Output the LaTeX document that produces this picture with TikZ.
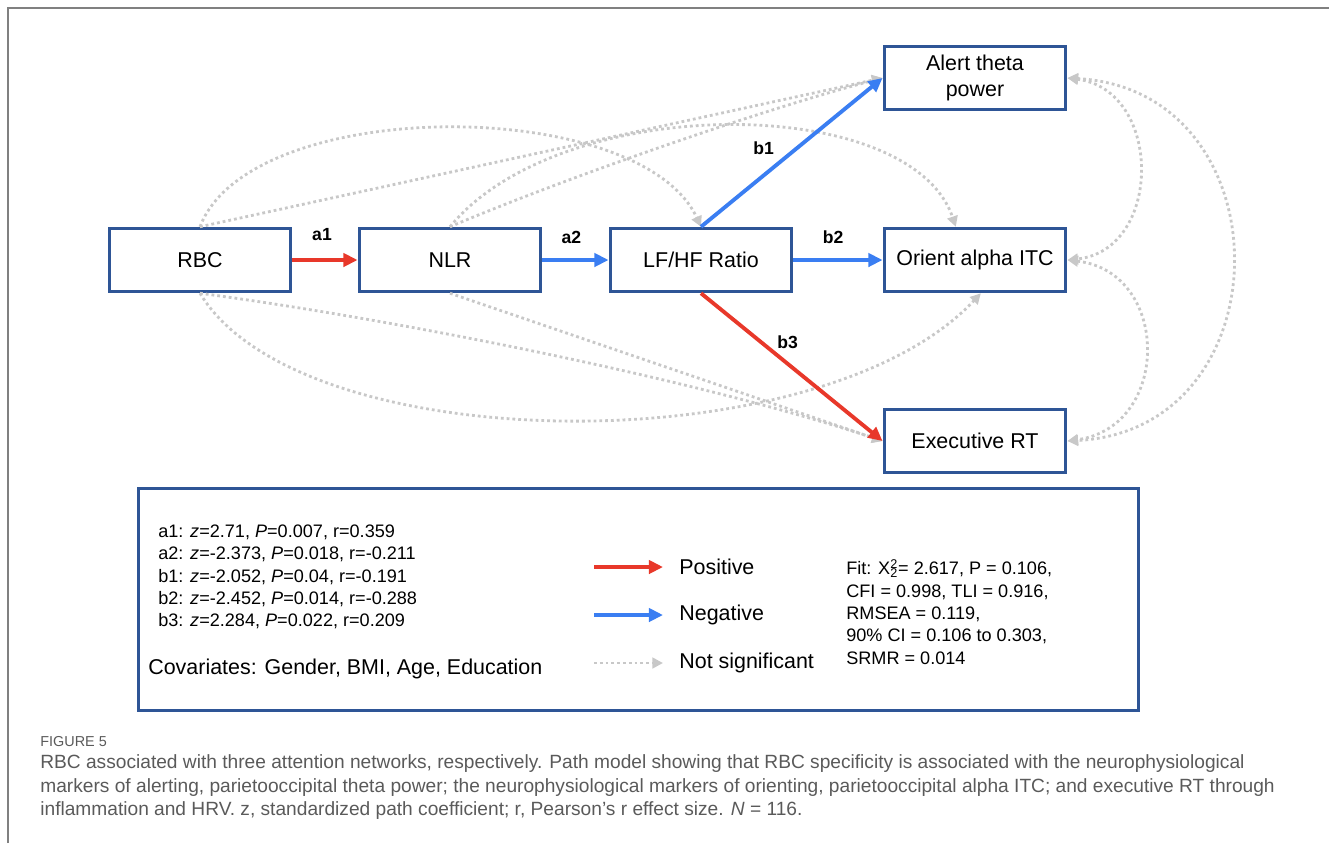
\documentclass[tikz,border=0pt]{standalone}
\usepackage{fontspec}
\setmainfont{Liberation Sans}
\usetikzlibrary{arrows.meta}

\definecolor{boxblue}{HTML}{2E5596}
\definecolor{posred}{HTML}{E8382A}
\definecolor{negblue}{HTML}{3A7EF2}
\definecolor{nsgray}{HTML}{C8C8C8}
\definecolor{capgray}{HTML}{5A5A5A}

\tikzset{
  var/.style={draw=boxblue, line width=1.7pt, minimum width=3.64cm, minimum height=1.27cm,
    inner sep=0pt, align=center, font=\fontsize{12.2}{14.7}\selectfont},
  sigpath/.style={line width=2.2pt, -{Triangle[length=8pt,width=7.5pt]}},
  posarrow/.style={sigpath, posred},
  negarrow/.style={sigpath, negblue},
  nspath/.style={draw=nsgray, line width=1.6pt, dash pattern=on 1.6pt off 1.7pt,
    -{Triangle[length=6pt,width=6pt]}},
  nscov/.style={nspath, {Triangle[length=6pt,width=6pt]}-{Triangle[length=6pt,width=6pt]}},
  plab/.style={text=black, inner sep=0pt, font=\fontsize{10}{12}\selectfont\bfseries},
  stat/.style={align=left, inner sep=0pt, font=\fontsize{10.3}{12.7}\selectfont},
  keytext/.style={anchor=west, inner sep=0pt, font=\fontsize{12.2}{14.7}\selectfont},
  captext/.style={anchor=west, inner sep=0pt, text=capgray, font=\fontsize{10.9}{13}\selectfont}
}

\begin{document}
\begin{tikzpicture}[x=0.02cm, y=-0.02cm]
  \useasboundingbox (0,0) rectangle (1329,843);
  % Cornice
  \draw[gray, line width=0.8pt] (8,843) -- (8,8) -- (1329,8);

  % Variabili
  \foreach \name/\px/\py/\txt in {rbc/200/260/RBC, nlr/450/260/NLR, lfhf/701/260/{LF/HF Ratio},
      alert/975/78/{Alert theta\\power}, orient/975/260/{Orient alpha ITC}, exec/975/441/{Executive RT}} {
    \node[var] (\name) at (\px,\py) {\txt};
  }

  % Percorsi non significativi
  \draw[nspath] (rbc.north) .. controls (250,95) and (640,95) .. (lfhf.north);
  \draw[nspath] (rbc.north) -- (alert.west);
  \draw[nspath] (nlr.north) .. controls (560,180) and (760,110) .. (alert.west);
  \draw[nspath] (nlr.north) .. controls (560,92) and (910,92) .. (orient.120);
  \draw[nspath] (rbc.south) .. controls (400,320) and (700,380) .. (exec.west);
  \draw[nspath] (rbc.south) .. controls (300,460) and (820,465) .. (orient.-80);
  \draw[nspath] (nlr.south) -- (exec.west);
  \draw[nscov] (alert.east) .. controls (1163,90) and (1163,250) .. (orient.east);
  \draw[nscov] (orient.east) .. controls (1171,272) and (1171,427) .. (exec.east);
  \draw[nscov] (alert.east) .. controls (1287,90) and (1287,430) .. (exec.east);

  % Percorsi significativi
  \foreach \a/\b/\lab/\col/\p/\dx/\dy in {rbc.east/nlr.west/a1/posred/0.5/-1.7/14.7,
      nlr.east/lfhf.west/a2/negblue/0.5/-2.3/13, lfhf.north/alert.west/b1/negblue/0.4/-5.7/10.8,
      lfhf.east/orient.west/b2/negblue/0.5/-2.8/13, lfhf.south/exec.west/b3/posred/0.45/2.8/10} {
    \draw[sigpath, \col] (\a) -- (\b) node[pos=\p, xshift=\dx pt, yshift=\dy pt, plab] {\lab};
  }

  % Legenda
  \node[draw=boxblue, line width=1.7pt, minimum width=20cm, minimum height=4.44cm] (key) at (638.5,599.5) {};
  \node[stat, anchor=west] (coef) at (158,577) {a1: \textit{z}=2.71, \textit{P}=0.007, r=0.359\\
    a2: \textit{z}=-2.373, \textit{P}=0.018, r=-0.211\\
    b1: \textit{z}=-2.052, \textit{P}=0.04, r=-0.191\\
    b2: \textit{z}=-2.452, \textit{P}=0.014, r=-0.288\\
    b3: \textit{z}=2.284, \textit{P}=0.022, r=0.209};
  \node[keytext] (cov) at (148,669) {Covariates: Gender, BMI, Age, Education};
  \foreach \y/\sty/\txt/\n in {567/posarrow/Positive/pos, 615/negarrow/Negative/neg, 663/nspath/Not significant/ns} {
    \coordinate (\n from) at (594,\y);
    \coordinate (\n to) at (663,\y);
    \draw[\sty] (\n from) -- (\n to);
    \node[keytext] (\n lab) at (679,\y) {\txt};
  }
  \node[stat, anchor=west] (fit) at (846,612) {Fit: X\rlap{\textsuperscript{2}}\textsubscript{2}= 2.617, P = 0.106,\\
    CFI = 0.998, TLI = 0.916,\\
    RMSEA = 0.119,\\
    90\% CI = 0.106 to 0.303,\\
    SRMR = 0.014};

  % Didascalia
  \node[captext, font=\fontsize{8.2}{10}\selectfont] (fig) at (40,742) {FIGURE 5};
  \foreach \i/\txt in {0/{RBC associated with three attention networks, respectively. Path model showing that RBC specificity is associated with the neurophysiological},
      1/{markers of alerting, parietooccipital theta power; the neurophysiological markers of orienting, parietooccipital alpha ITC; and executive RT through},
      2/{inflammation and HRV. z, standardized path coefficient; r, Pearson’s r effect size. \textit{N} = 116.}} {
    \node[captext] (cap\i) at (40,{764+23.5*\i}) {\txt};
  }
\end{tikzpicture}
\end{document}
